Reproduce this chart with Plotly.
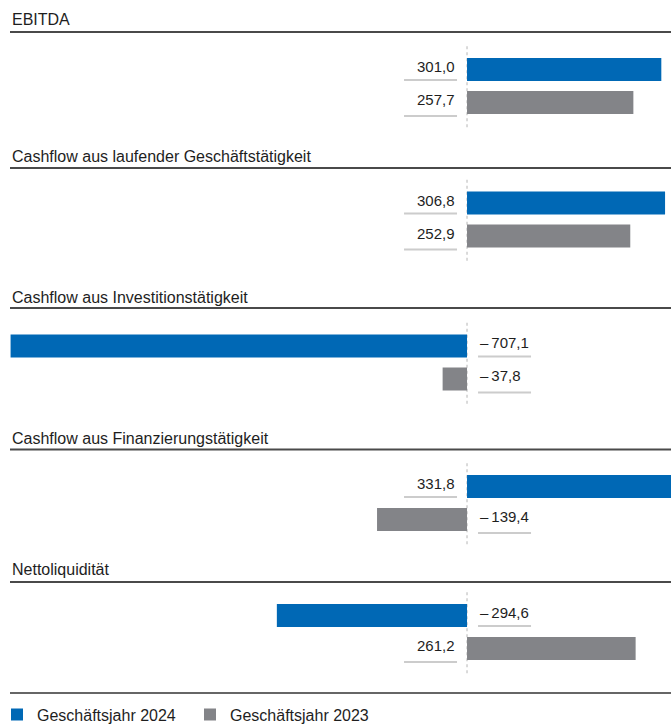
import plotly.graph_objects as go

# ---- data ----
panels = [
    "EBITDA",
    "Cashflow aus laufender Geschäftstätigkeit",
    "Cashflow aus Investitionstätigkeit",
    "Cashflow aus Finanzierungstätigkeit",
    "Nettoliquidität",
]
series_names = ["Geschäftsjahr 2024", "Geschäftsjahr 2023"]
series_keys = ["2024", "2023"]
values_2024 = [301.0, 306.8, -707.1, 331.8, -294.6]
values_2023 = [257.7, 252.9, -37.8, -139.4, 261.2]

# ---- style / layout ----
W, H = 671, 724
B = 31  # bottom margin: plot area ends at the bottom rule
PH = H - B
colors = {"2024": "#0068b5", "2023": "#838488"}
text_color = "#1e1e1e"
font_family = "Liberation Sans, Arial, Helvetica, sans-serif"
title_y_px = [20, 156, 297, 438, 569]
rule_y_px = [32, 168, 308, 449.5, 582]
pair_center_px = [86, 219.5, 362.5, 503, 632]
half_h_px = 41.25  # half height of each panel plot area
x_left_px = 10
x_range = [-708, 316]
category_order = ["2023", "2024"]
underline_offset = {"2024": -10.5, "2023": -13.5}


def py(px):
    return 1 - px / PH


def fmt(v):
    s = f"{abs(v):.1f}".replace(".", ",")
    return ("\u2013\u2009" + s) if v < 0 else s


fig = go.Figure()
layout_axes = {}
shapes = []
annotations = []

for i, name in enumerate(panels):
    n = i + 1
    yname = "y" if n == 1 else f"y{n}"
    ykey = "yaxis" if n == 1 else f"yaxis{n}"
    vals = {"2024": values_2024[i], "2023": values_2023[i]}
    for key, sname in zip(series_keys, series_names):
        fig.add_trace(go.Bar(
            x=[vals[key]], y=[key], orientation="h",
            marker=dict(color=colors[key], line=dict(width=0)),
            name=sname, legendgroup=key, showlegend=(i == 0),
            xaxis="x", yaxis=yname, hoverinfo="skip",
        ))
        pos = vals[key] >= 0
        ci = category_order.index(key)
        annotations.append(dict(
            x=0, y=ci, xref="x", yref=yname,
            text=fmt(vals[key]), showarrow=False,
            xanchor="right" if pos else "left", yanchor="middle",
            xshift=-10 if pos else 11, yshift=3,
            font=dict(size=15, color=text_color, family=font_family),
        ))
        shapes.append(dict(
            type="line", xref="x", yref=yname,
            xsizemode="pixel", xanchor=0,
            x0=-63 if pos else 11, x1=-10 if pos else 64,
            ysizemode="pixel", yanchor=ci,
            y0=underline_offset[key], y1=underline_offset[key],
            line=dict(color="#cccccc", width=2),
        ))
    c = pair_center_px[i]
    layout_axes[ykey] = dict(
        domain=[py(c + half_h_px), py(c - half_h_px)],
        anchor="x", type="category",
        categoryorder="array", categoryarray=category_order,
        range=[-0.75, 1.75], fixedrange=True,
        showgrid=False, showticklabels=False, zeroline=False, showline=False,
    )
    shapes.append(dict(
        type="line", xref="x", yref=f"{yname} domain",
        x0=0, x1=0, y0=0, y1=1,
        line=dict(color="#b5b5b5", width=1, dash="dot"), layer="below",
    ))
    annotations.append(dict(
        x=x_left_px / W, y=py(title_y_px[i]), xref="paper", yref="paper",
        text=name, showarrow=False, xanchor="left", yanchor="middle",
        font=dict(size=16, color=text_color, family=font_family),
    ))
    shapes.append(dict(
        type="line", xref="paper", yref="paper",
        x0=x_left_px / W, x1=1, y0=py(rule_y_px[i]), y1=py(rule_y_px[i]),
        line=dict(color="#4a4a4a", width=2),
    ))

# bottom rule (bottom edge of the plot area)
shapes.append(dict(
    type="line", xref="paper", yref="paper",
    x0=x_left_px / W, x1=1, y0=py(693), y1=py(693),
    line=dict(color="#333333", width=1.5),
))

fig.update_layout(
    width=W, height=H, autosize=False,
    margin=dict(l=0, r=0, t=0, b=B, autoexpand=False),
    paper_bgcolor="white", plot_bgcolor="white",
    barmode="overlay", bargap=0.303,
    xaxis=dict(domain=[x_left_px / W, 1], range=x_range, fixedrange=True,
               showgrid=False, showticklabels=False, zeroline=False, showline=False),
    showlegend=True,
    legend=dict(orientation="h", x=-3 / W, xanchor="left", y=py(714.5), yanchor="middle",
                entrywidth=148, entrywidthmode="pixels", traceorder="normal",
                font=dict(size=16, color=text_color, family=font_family),
                bgcolor="rgba(0,0,0,0)"),
    shapes=shapes, annotations=annotations,
    font=dict(family=font_family, color=text_color),
    **layout_axes,
)

fig.write_html(
    "out.html",
    config={"displayModeBar": False},
    post_script="document.body.style.margin='0';document.body.style.overflow='hidden';",
)
